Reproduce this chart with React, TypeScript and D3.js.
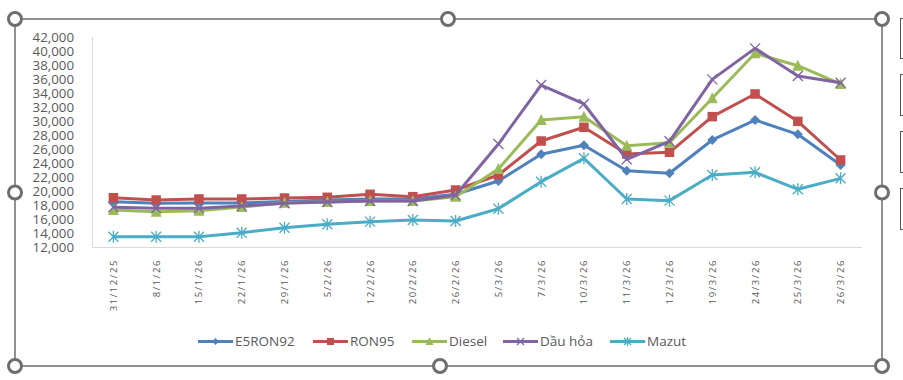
import React from "react";
import * as d3 from "d3";

const categories = ["31/12/25","8/1/26","15/1/26","22/1/26","29/1/26","5/2/26","12/2/26","20/2/26","26/2/26","5/3/26","7/3/26","10/3/26","11/3/26","12/3/26","19/3/26","24/3/26","25/3/26","26/3/26"];
const e5ron92 = [18470,18240,18300,18300,18500,18710,18860,18860,19530,21430,25240,26530,22900,22530,27290,30140,28100,23710];
const ron95 = [19040,18710,18860,18860,19000,19100,19530,19190,20140,22290,27140,29100,25290,25530,30620,33860,29950,24430];
const diesel = [17290,17050,17190,17700,18330,18430,18570,18570,19190,23140,30140,30620,26470,26900,33240,39670,37900,35290];
const dauHoa = [17670,17530,17530,17860,18240,18430,18570,18570,19400,26710,35140,32430,24530,27100,35950,40380,36430,35470];
const mazut = [13470,13470,13470,14040,14740,15240,15620,15860,15710,17470,21330,24670,18860,18620,22290,22670,20240,21810];
const yTicks = [12000,14000,16000,18000,20000,22000,24000,26000,28000,30000,32000,34000,36000,38000,40000,42000];

const seriesList = [
  { name: "E5RON92", values: e5ron92, color: "#4F81BD", marker: "diamond" },
  { name: "RON95", values: ron95, color: "#C0504D", marker: "square" },
  { name: "Diesel", values: diesel, color: "#9BBB59", marker: "triangle" },
  { name: "Dầu hỏa", values: dauHoa, color: "#8064A2", marker: "x" },
  { name: "Mazut", values: mazut, color: "#4BACC6", marker: "star" },
];

const legendX = [198, 313, 412, 503, 610];

function Marker({ type, x, y, color, s }: { type: string; x: number; y: number; color: string; s: number }) {
  const h = s / 2;
  if (type === "diamond") return <path d={`M${x},${y - h}L${x + h},${y}L${x},${y + h}L${x - h},${y}Z`} fill={color} />;
  if (type === "square") return <rect x={x - h} y={y - h} width={s} height={s} fill={color} />;
  if (type === "triangle") return <path d={`M${x},${y - h - 1}L${x + h + 0.5},${y + h}L${x - h - 0.5},${y + h}Z`} fill={color} />;
  if (type === "x") return <path d={`M${x - h},${y - h}L${x + h},${y + h}M${x - h},${y + h}L${x + h},${y - h}`} stroke={color} strokeWidth={1.3} fill="none" />;
  return <path d={`M${x - h},${y - h}L${x + h},${y + h}M${x - h},${y + h}L${x + h},${y - h}M${x},${y - h - 1}L${x},${y + h + 1}`} stroke={color} strokeWidth={1.3} fill="none" />;
}

export default function App() {
  const W = 903, H = 380;
  const left = 92, right = 862, top = 37, bottom = 247;
  const x = d3.scaleBand<string>().domain(categories).range([left, right]);
  const y = d3.scaleLinear().domain([12000, 42000]).range([bottom, top]);
  const cx = (c: string) => (x(c) as number) + x.bandwidth() / 2;
  const line = d3.line<number>().x((_, i) => cx(categories[i])).y((v) => y(v));
  const font = "'Open Sans', sans-serif";
  const handles = [[15, 19], [448, 19], [882, 19], [15, 192.5], [882, 192.5], [15, 366], [440, 366], [882, 366]];
  const boxes = [[18, 58], [74, 115], [131, 172], [188, 229]];
  return (
    <svg width={W} height={H} style={{ position: "absolute", left: 0, top: 0, background: "#fff" }}>
      <rect x={0} y={0} width={W} height={H} fill="#fff" />
      <line x1={left + 0.5} x2={left + 0.5} y1={top} y2={bottom} stroke="#D9D9D9" strokeWidth={1} />
      <line x1={left} x2={right} y1={bottom + 0.5} y2={bottom + 0.5} stroke="#D9D9D9" strokeWidth={1} />
      {yTicks.map((t) => (
        <text key={t} x={74} y={y(t)} dy="0.36em" textAnchor="end" fontFamily={font} fontSize={13.3} fill="#595959">
          {d3.format(",")(t)}
        </text>
      ))}
      {categories.map((c) => (
        <text key={c} transform={`translate(${cx(c) + 3.5},259) rotate(-90)`} textAnchor="end" fontFamily={font} fontSize={9.5} letterSpacing={1.6} fill="#595959">
          {c}
        </text>
      ))}
      {seriesList.map((s) => (
        <g key={s.name}>
          <path d={line(s.values) || ""} fill="none" stroke={s.color} strokeWidth={3} strokeLinejoin="round" />
          {s.values.map((v, i) => (
            <Marker key={i} type={s.marker} x={cx(categories[i])} y={y(v)} color={s.color} s={s.marker === "square" ? 9.5 : 10} />
          ))}
        </g>
      ))}
      {seriesList.map((s, i) => (
        <g key={s.name}>
          <line x1={legendX[i]} x2={legendX[i] + 35} y1={341.5} y2={341.5} stroke={s.color} strokeWidth={3} />
          <Marker type={s.marker} x={legendX[i] + 17.5} y={341.5} color={s.color} s={7} />
          <text x={legendX[i] + 37} y={341.5} dy="0.36em" fontFamily={font} fontSize={13.5} fill="#595959">{s.name}</text>
        </g>
      ))}
      <rect x={15} y={19} width={867} height={347} fill="none" stroke="#6E6E6E" strokeWidth={1.5} />
      {handles.map(([hx, hy], i) => (
        <circle key={i} cx={hx} cy={hy} r={6.5} fill="#fff" stroke="#6E6E6E" strokeWidth={3} />
      ))}
      {boxes.map(([y1, y2], i) => (
        <rect key={i} x={900.5} y={y1 + 0.5} width={10} height={y2 - y1} fill="#fff" stroke="#555" strokeWidth={1} />
      ))}
    </svg>
  );
}
